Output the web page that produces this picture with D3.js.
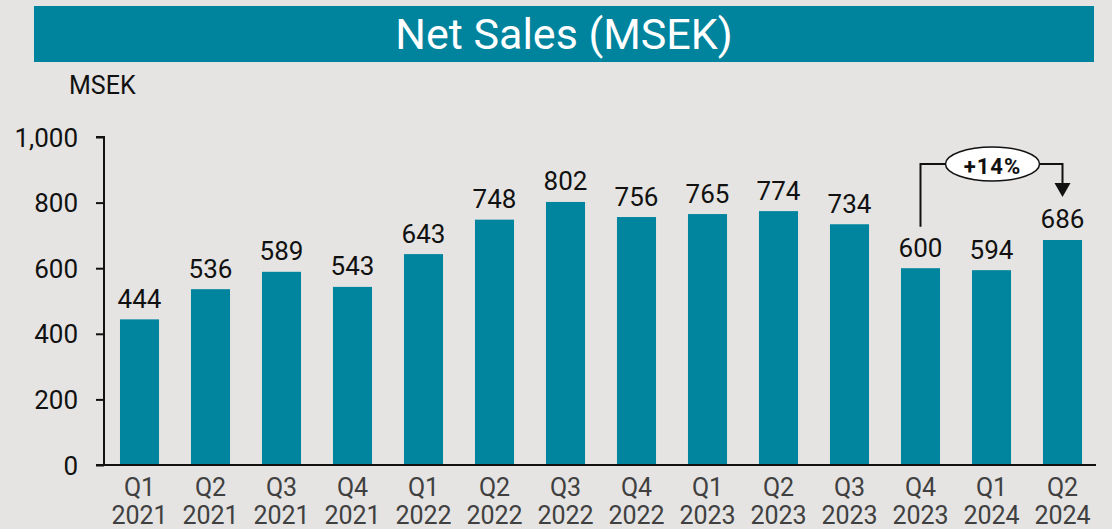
<!DOCTYPE html>
<html><head><meta charset="utf-8">
<script src="https://cdn.jsdelivr.net/npm/d3@7"></script>
<style>
html,body{margin:0;padding:0;background:#e5e4e2;}
svg{display:block;font-family:Roboto, "Noto Sans", sans-serif;}
</style></head>
<body><svg id="chart" width="1112" height="529"></svg>
<script>
const quarters = ["Q1","Q2","Q3","Q4","Q1","Q2","Q3","Q4","Q1","Q2","Q3","Q4","Q1","Q2"];
const years = ["2021","2021","2021","2021","2022","2022","2022","2022","2023","2023","2023","2023","2024","2024"];
const netSales = [444,536,589,543,643,748,802,756,765,774,734,600,594,686];
const yTicks = [0,200,400,600,800,1000];
const title = "Net Sales (MSEK)";
const unitLabel = "MSEK";
const growthLabel = "+14%";
const growthFrom = 11, growthTo = 13;

const svg = d3.select("#chart");
const barColor = "#01849e";
const categories = quarters.map((q,i)=>q+" "+years[i]);

// title bar
svg.append("rect").attr("x",34).attr("y",6).attr("width",1060).attr("height",56).attr("fill","#00849e");
svg.append("text").attr("x",564).attr("y",49).attr("text-anchor","middle")
  .attr("fill","#fff").style("font-size","43px").text(title);
svg.append("text").attr("x",69).attr("y",94).attr("fill","#111").style("font-size","25px").text(unitLabel);

const x = d3.scaleBand().domain(categories).range([104,1098]).paddingInner(0.45).paddingOuter(0.225);
const y = d3.scaleLinear().domain([0,1000]).range([465,137]);

// bars
svg.selectAll("rect.bar").data(netSales).join("rect").attr("class","bar")
  .attr("x",(d,i)=>x(categories[i])).attr("width",x.bandwidth())
  .attr("y",d=>y(d)).attr("height",d=>y(0)-y(d)).attr("fill",barColor);

// value labels
svg.selectAll("text.val").data(netSales).join("text").attr("class","val")
  .attr("x",(d,i)=>x(categories[i])+x.bandwidth()/2).attr("y",d=>y(d)-11.5)
  .attr("text-anchor","middle").attr("fill","#111").style("font-size","26px").text(d=>d);

// y axis
const yAxis = d3.axisLeft(y).tickValues(yTicks).tickSize(8).tickPadding(18).tickFormat(d3.format(","));
const gy = svg.append("g").attr("transform","translate(104,0)").call(yAxis);
gy.select(".domain").attr("stroke","#111").attr("stroke-width",2).attr("d","M-8,"+y(1000)+"H0V"+y(0));
gy.selectAll(".tick line").attr("stroke","#111").attr("stroke-width",2);
gy.selectAll(".tick text").attr("fill","#111").style("font-size","26px").style("font-family","Roboto").attr("dy","0.35em");

// x axis line
svg.append("line").attr("x1",96).attr("x2",1096).attr("y1",y(0)).attr("y2",y(0)).attr("stroke","#111").attr("stroke-width",2);

// x labels
const xl = svg.selectAll("g.xl").data(categories).join("g").attr("class","xl")
  .attr("transform",d=>`translate(${x(d)+x.bandwidth()/2},0)`);
xl.append("text").attr("y",496).attr("text-anchor","middle").attr("fill","#404040").style("font-size","25px").text((d,i)=>quarters[i]);
xl.append("text").attr("y",524).attr("text-anchor","middle").attr("fill","#404040").style("font-size","25px").text((d,i)=>years[i]);

// growth annotation
const xa = x(categories[growthFrom])+x.bandwidth()/2;
const xb = x(categories[growthTo])+x.bandwidth()/2;
const ly = 164;
const cx = (xa+xb)/2 + 1;
const tipY = y(netSales[growthTo])-43;
svg.append("path").attr("d",`M${xa},${y(netSales[growthFrom])-41.5}V${ly}H${xb}V${tipY-10}`)
  .attr("fill","none").attr("stroke","#111").attr("stroke-width",2);
svg.append("path").attr("d",`M${xb-8},${tipY-14}H${xb+8}L${xb},${tipY}Z`).attr("fill","#111");
svg.append("ellipse").attr("cx",cx).attr("cy",ly).attr("rx",47).attr("ry",17)
  .attr("fill","#fff").attr("stroke","#111").attr("stroke-width",1.5);
svg.append("text").attr("x",cx).attr("y",ly+10).attr("text-anchor","middle").attr("fill","#111")
  .style("font-size","22px").style("font-weight","bold").style("letter-spacing","1px").text(growthLabel);
</script></body></html>
